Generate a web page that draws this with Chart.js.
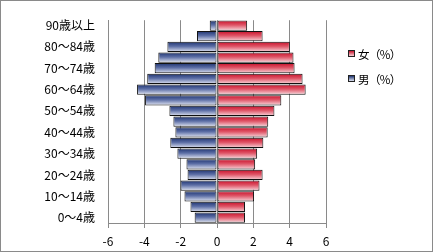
<!DOCTYPE html>
<html>
<head>
<meta charset="utf-8">
<script src="https://cdn.jsdelivr.net/npm/chart.js@4"></script>
<style>
  body { margin: 0; background: #fff; }
  #wrap { position: relative; width: 433px; height: 252px; }
  #frame { position: absolute; left: 0; top: 0; width: 431px; height: 250px; border: 1px solid #8a8a8a; pointer-events: none; }
  #legend { position: absolute; left: 348px; top: 41px; font-family: "Noto Sans CJK JP", sans-serif; font-size: 11.5px; color: #000; letter-spacing: -0.6px; }
  .item { display: flex; align-items: center; height: 25px; }
  .box { width: 5px; height: 5px; border: 1px solid #222; margin-right: 3px; }
</style>
</head>
<body>
<div id="wrap">
  <canvas id="chart" width="433" height="252"></canvas>
  <div id="legend">
    <div class="item"><span class="box" style="background:linear-gradient(#c8102a,#f6d0d6)"></span>女（%）</div>
    <div class="item"><span class="box" style="background:linear-gradient(#1e3370,#dde2f1)"></span>男（%）</div>
  </div>
  <div id="frame"></div>
</div>
<script>
// --- data (bottom row first) ---
const ageLabels = ['0～4歳','5～9歳','10～14歳','15～19歳','20～24歳','25～29歳','30～34歳','35～39歳','40～44歳','45～49歳',
                   '50～54歳','55～59歳','60～64歳','65～69歳','70～74歳','75～79歳','80～84歳','85～89歳','90歳以上'];
const maleValues = [-1.23,-1.46,-1.79,-2.01,-1.62,-1.68,-2.18,-2.57,-2.29,-2.40,
                    -2.62,-3.96,-4.40,-3.84,-3.43,-3.23,-2.73,-1.10,-0.40];
const femaleValues = [1.54,1.54,2.04,2.34,2.51,2.10,2.21,2.55,2.79,2.82,
                      3.16,3.54,4.88,4.71,4.27,4.21,4.01,2.51,1.66];
const xTicks = [-6,-4,-2,0,2,4,6];

const CATEGORY_PCT = 0.96;
const FONT = { family: '"Noto Sans CJK JP", sans-serif', size: 12 };

// vertical gradient for each bar (dark on top, pale at the bottom)
function barGradient(ctx, stops) {
  const chart = ctx.chart;
  const area = chart.chartArea;
  if (!area || ctx.type !== 'data') return stops[0];
  const center = chart.scales.y.getPixelForValue(ctx.dataIndex);
  const half = (area.height / ageLabels.length) * CATEGORY_PCT / 2;
  const g = chart.ctx.createLinearGradient(0, center - half, 0, center + half);
  g.addColorStop(0, stops[0]);
  g.addColorStop(0.45, stops[1]);
  g.addColorStop(1, stops[2]);
  return g;
}

new Chart(document.getElementById('chart').getContext('2d'), {
  type: 'bar',
  data: {
    labels: ageLabels,
    datasets: [
      {
        label: '男（%）',
        data: maleValues,
        backgroundColor: ctx => barGradient(ctx, ['#1e3370', '#5d6fa6', '#e2e6f3']),
        borderColor: '#111',
        borderWidth: 1,
        borderSkipped: false
      },
      {
        label: '女（%）',
        data: femaleValues,
        backgroundColor: ctx => barGradient(ctx, ['#c8102a', '#df5567', '#f8d9de']),
        borderColor: '#111',
        borderWidth: 1,
        borderSkipped: false
      }
    ]
  },
  options: {
    indexAxis: 'y',
    responsive: false,
    animation: false,
    categoryPercentage: CATEGORY_PCT,
    barPercentage: 1,
    layout: { padding: { left: 0, right: 107, top: 15, bottom: 0 } },
    plugins: { legend: { display: false }, tooltip: { enabled: false } },
    scales: {
      x: {
        stacked: true,
        min: -6,
        max: 6,
        afterBuildTicks: scale => { scale.ticks = xTicks.map(v => ({ value: v })); },
        afterFit: scale => { scale.height = 29; },
        grid: { color: '#8a8a8a', lineWidth: 1, tickLength: 5 },
        border: { color: '#8a8a8a' },
        ticks: { font: FONT, color: '#000', padding: 6 }
      },
      y: {
        stacked: true,
        reverse: true,
        afterFit: scale => { scale.width = 108; },
        grid: { drawOnChartArea: false, drawTicks: false },
        border: { color: '#8a8a8a' },
        ticks: {
          font: FONT,
          color: '#000',
          padding: 13,
          autoSkip: false,
          callback: function (value, index) { return index % 2 === 0 ? this.getLabelForValue(value) : ''; }
        }
      }
    }
  }
});
</script>
</body>
</html>
